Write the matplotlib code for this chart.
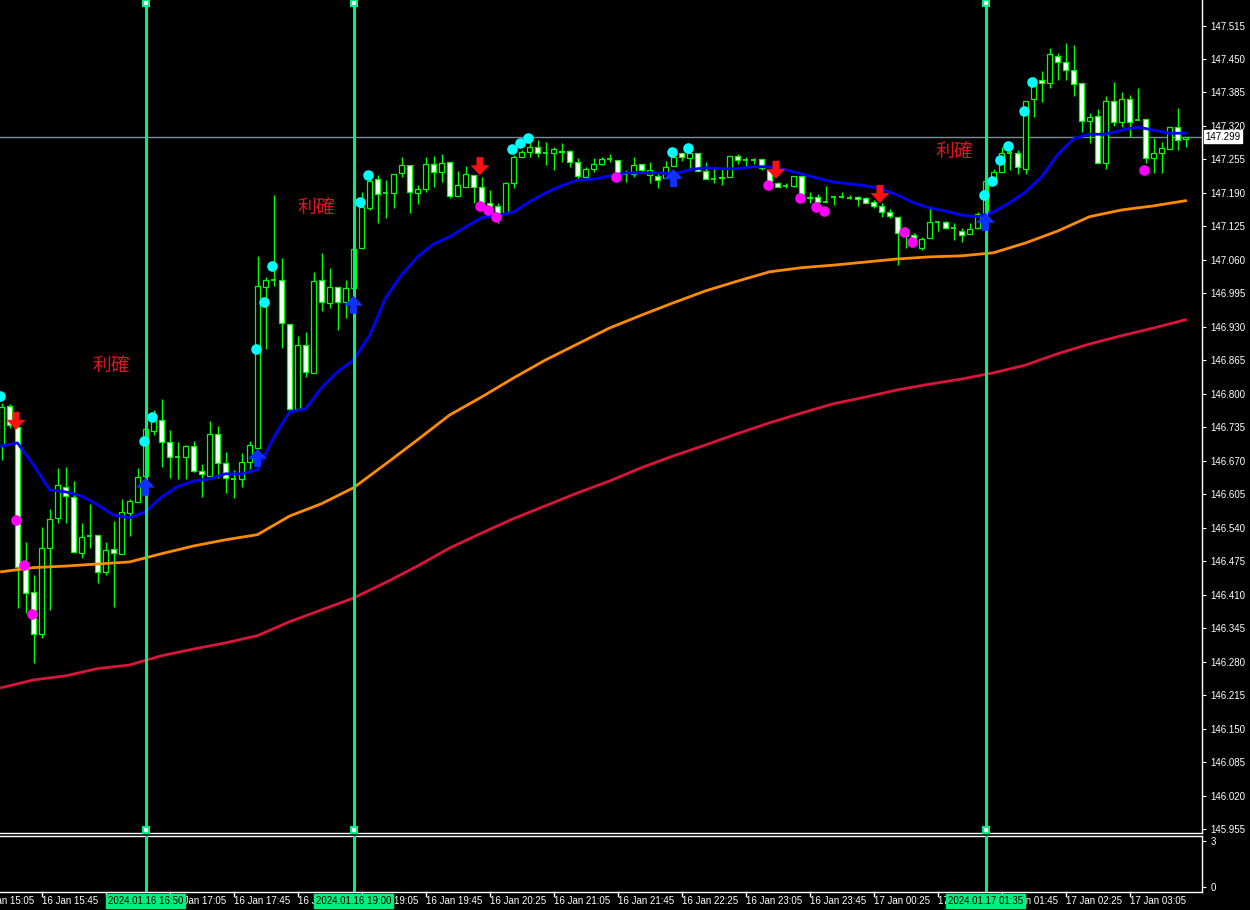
import matplotlib
matplotlib.use('Agg')
import matplotlib.pyplot as plt
from matplotlib.patches import Rectangle
from matplotlib import transforms
from matplotlib.transforms import Bbox

# USDJPY M5, bar 0 = 16 Jan 15:20
opens = [146.701, 146.777, 146.736, 146.463, 146.416, 146.335, 146.501, 146.560, 146.620, 146.600,
         146.492, 146.525, 146.527, 146.455, 146.499, 146.490, 146.569, 146.591, 146.641, 146.728,
         146.750, 146.707, 146.678, 146.678, 146.699, 146.651, 146.641, 146.723, 146.666, 146.635,
         146.635, 146.668, 146.695, 147.008, 147.021, 147.021, 146.936, 146.771, 146.895, 146.841,
         147.021, 146.977, 147.008, 146.979, 147.006, 147.083, 147.161, 147.217, 147.190, 147.190,
         147.229, 147.244, 147.190, 147.198, 147.246, 147.231, 147.250, 147.184, 147.202, 147.225,
         147.202, 147.171, 147.165, 147.151, 147.210, 147.260, 147.270, 147.279, 147.268, 147.268,
         147.272, 147.272, 147.250, 147.221, 147.237, 147.246, 147.256, 147.254, 147.227, 147.227,
         147.246, 147.225, 147.223, 147.219, 147.243, 147.268, 147.258, 147.268, 147.233, 147.217,
         147.219, 147.221, 147.262, 147.254, 147.254, 147.256, 147.235, 147.210, 147.204, 147.204,
         147.223, 147.180, 147.182, 147.173, 147.182, 147.182, 147.180, 147.182, 147.180, 147.173,
         147.165, 147.153, 147.144, 147.113, 147.109, 147.083, 147.103, 147.134, 147.134, 147.122,
         147.116, 147.111, 147.122, 147.149, 147.215, 147.231, 147.268, 147.268, 147.237, 147.372,
         147.409, 147.404, 147.456, 147.444, 147.429, 147.404, 147.330, 147.339, 147.248, 147.369,
         147.328, 147.372, 147.332, 147.334, 147.258, 147.268, 147.275, 147.318, 147.295]
highs = [146.783, 146.781, 146.740, 146.513, 146.449, 146.542, 146.577, 146.657, 146.659, 146.631,
         146.550, 146.587, 146.527, 146.513, 146.554, 146.596, 146.596, 146.657, 146.740, 146.769,
         146.790, 146.730, 146.707, 146.701, 146.709, 146.664, 146.748, 146.738, 146.688, 146.653,
         146.686, 146.709, 147.068, 147.027, 147.186, 147.064, 146.936, 146.913, 146.920, 147.037,
         147.074, 147.045, 147.008, 147.021, 147.081, 147.192, 147.225, 147.225, 147.215, 147.227,
         147.260, 147.244, 147.206, 147.260, 147.262, 147.266, 147.250, 147.233, 147.243, 147.225,
         147.221, 147.196, 147.171, 147.211, 147.264, 147.274, 147.289, 147.293, 147.289, 147.279,
         147.287, 147.274, 147.258, 147.241, 147.258, 147.260, 147.266, 147.254, 147.235, 147.260,
         147.246, 147.250, 147.229, 147.252, 147.268, 147.268, 147.274, 147.268, 147.250, 147.241,
         147.237, 147.262, 147.266, 147.260, 147.258, 147.256, 147.235, 147.211, 147.210, 147.223,
         147.225, 147.192, 147.188, 147.204, 147.182, 147.192, 147.186, 147.184, 147.182, 147.177,
         147.171, 147.159, 147.144, 147.124, 147.113, 147.105, 147.165, 147.134, 147.136, 147.132,
         147.122, 147.132, 147.153, 147.219, 147.237, 147.279, 147.287, 147.274, 147.369, 147.415,
         147.427, 147.471, 147.462, 147.481, 147.477, 147.404, 147.345, 147.353, 147.378, 147.405,
         147.386, 147.380, 147.394, 147.334, 147.297, 147.289, 147.318, 147.355, 147.299]
lows = [146.672, 146.734, 146.385, 146.375, 146.278, 146.327, 146.381, 146.550, 146.550, 146.494,
        146.482, 146.501, 146.434, 146.449, 146.387, 146.490, 146.525, 146.591, 146.633, 146.721,
        146.659, 146.637, 146.635, 146.635, 146.649, 146.600, 146.641, 146.637, 146.608, 146.598,
        146.620, 146.655, 146.695, 146.887, 147.010, 146.889, 146.769, 146.771, 146.833, 146.841,
        146.961, 146.967, 146.924, 146.948, 147.006, 147.083, 147.157, 147.132, 147.142, 147.161,
        147.221, 147.151, 147.169, 147.192, 147.202, 147.211, 147.180, 147.184, 147.202, 147.171,
        147.171, 147.153, 147.132, 147.151, 147.200, 147.260, 147.260, 147.260, 147.244, 147.235,
        147.250, 147.241, 147.215, 147.215, 147.231, 147.244, 147.250, 147.221, 147.211, 147.221,
        147.231, 147.210, 147.200, 147.219, 147.243, 147.252, 147.235, 147.233, 147.217, 147.210,
        147.206, 147.221, 147.246, 147.241, 147.246, 147.235, 147.211, 147.202, 147.200, 147.202,
        147.186, 147.171, 147.171, 147.173, 147.167, 147.180, 147.178, 147.165, 147.171, 147.161,
        147.144, 147.142, 147.050, 147.083, 147.085, 147.080, 147.103, 147.116, 147.120, 147.099,
        147.095, 147.111, 147.120, 147.146, 147.211, 147.231, 147.235, 147.227, 147.227, 147.338,
        147.367, 147.394, 147.409, 147.409, 147.378, 147.308, 147.287, 147.248, 147.237, 147.320,
        147.318, 147.299, 147.332, 147.248, 147.229, 147.229, 147.275, 147.274, 147.279]
closes = [146.775, 146.740, 146.465, 146.414, 146.335, 146.501, 146.558, 146.624, 146.602, 146.494,
          146.523, 146.525, 146.455, 146.498, 146.492, 146.571, 146.593, 146.639, 146.732, 146.748,
          146.707, 146.678, 146.678, 146.699, 146.651, 146.645, 146.723, 146.666, 146.637, 146.635,
          146.668, 146.701, 147.010, 147.021, 147.021, 146.938, 146.771, 146.895, 146.843, 147.019,
          146.979, 147.008, 146.979, 147.006, 147.081, 147.163, 147.213, 147.188, 147.190, 147.227,
          147.244, 147.192, 147.198, 147.246, 147.231, 147.248, 147.184, 147.206, 147.227, 147.202,
          147.171, 147.163, 147.151, 147.210, 147.260, 147.270, 147.279, 147.268, 147.268, 147.275,
          147.270, 147.250, 147.223, 147.237, 147.246, 147.256, 147.256, 147.229, 147.227, 147.244,
          147.235, 147.235, 147.215, 147.241, 147.260, 147.260, 147.268, 147.233, 147.217, 147.217,
          147.221, 147.262, 147.254, 147.254, 147.254, 147.239, 147.211, 147.202, 147.204, 147.223,
          147.186, 147.182, 147.173, 147.173, 147.182, 147.182, 147.180, 147.178, 147.171, 147.165,
          147.153, 147.146, 147.113, 147.107, 147.101, 147.101, 147.134, 147.134, 147.122, 147.122,
          147.109, 147.120, 147.149, 147.213, 147.231, 147.268, 147.268, 147.241, 147.369, 147.405,
          147.404, 147.460, 147.444, 147.429, 147.402, 147.330, 147.338, 147.248, 147.369, 147.328,
          147.372, 147.328, 147.332, 147.258, 147.268, 147.277, 147.318, 147.293, 147.299]

# moving averages (read every 2 / 4 bars)
ma_fast_bars = list(range(0, 149, 2))
ma_fast = [146.699, 146.705, 146.662, 146.614, 146.610, 146.602, 146.585, 146.565, 146.560, 146.571,
           146.600, 146.620, 146.631, 146.635, 146.645, 146.645, 146.653, 146.715, 146.765, 146.771,
           146.812, 146.843, 146.866, 146.913, 146.986, 147.031, 147.066, 147.091, 147.105, 147.124,
           147.142, 147.146, 147.153, 147.173, 147.190, 147.204, 147.215, 147.217, 147.223, 147.229,
           147.229, 147.229, 147.227, 147.235, 147.239, 147.237, 147.237, 147.241, 147.241, 147.235,
           147.227, 147.219, 147.211, 147.208, 147.204, 147.198, 147.186, 147.171, 147.161, 147.155,
           147.147, 147.144, 147.153, 147.171, 147.192, 147.221, 147.264, 147.295, 147.304, 147.304,
           147.312, 147.318, 147.312, 147.306, 147.306]
ma_slow_bars = list(range(0, 149, 4))
ma_mid = [146.455, 146.463, 146.466, 146.470, 146.474, 146.490, 146.505, 146.517, 146.527, 146.563,
          146.587, 146.618, 146.664, 146.711, 146.759, 146.794, 146.831, 146.866, 146.897, 146.928,
          146.953, 146.977, 147.000, 147.019, 147.037, 147.045, 147.050, 147.056, 147.062, 147.066,
          147.068, 147.074, 147.093, 147.116, 147.144, 147.157, 147.165, 147.175]
ma_long = [146.230, 146.245, 146.253, 146.267, 146.274, 146.292, 146.305, 146.317, 146.331, 146.358,
           146.381, 146.404, 146.434, 146.466, 146.501, 146.530, 146.558, 146.583, 146.608, 146.631,
           146.657, 146.680, 146.701, 146.723, 146.744, 146.763, 146.781, 146.794, 146.808, 146.819,
           146.829, 146.841, 146.856, 146.878, 146.897, 146.913, 146.928, 146.944]

# signal dots
buy_dot_bars = [0, 18, 19, 32, 33, 34, 45, 46, 64, 65, 66, 84, 86, 123, 124, 125, 126, 128, 129]
buy_dot_px = [146.796, 146.709, 146.756, 146.887, 146.979, 147.048, 147.173, 147.225, 147.275, 147.287,
              147.297, 147.270, 147.277, 147.186, 147.213, 147.254, 147.281, 147.349, 147.405]
sell_dot_bars = [2, 3, 4, 60, 61, 62, 77, 96, 100, 102, 103, 113, 114, 143]
sell_dot_px = [146.556, 146.468, 146.373, 147.165, 147.157, 147.144, 147.221, 147.206, 147.180, 147.163,
               147.155, 147.114, 147.095, 147.235]

# arrows
down_arrow_bars = [2, 60, 97, 110]
down_arrow_px = [146.748, 147.242, 147.235, 147.188]
up_arrow_bars = [18, 32, 44, 84, 123]
up_arrow_px = [146.620, 146.676, 146.973, 147.219, 147.134]

# "take profit" notes
note_text = '利確'
note_bars = [13.7, 39.4, 119.1]
note_px = [146.856, 147.161, 147.270]

# vertical lines
vline_bars = [18, 44, 123]
vline_labels = ['2024.01.16 16:50', '2024.01.16 19:00', '2024.01.17 01:35']

# time axis
time_bars = [-3, 5, 13, 21, 29, 37, 45, 53, 61, 69, 77, 85, 93, 101, 109, 117, 125, 133, 141]
time_labels = ['16 Jan 15:05', '16 Jan 15:45', '16 Jan 16:25', '16 Jan 17:05', '16 Jan 17:45',
               '16 Jan 18:25', '16 Jan 19:05', '16 Jan 19:45', '16 Jan 20:25', '16 Jan 21:05',
               '16 Jan 21:45', '16 Jan 22:25', '16 Jan 23:05', '16 Jan 23:45', '17 Jan 00:25',
               '17 Jan 01:05', '17 Jan 01:45', '17 Jan 02:25', '17 Jan 03:05']

last_price = 147.299
price_ticks = [round(145.955 + 0.065 * i, 3) for i in range(25)]

LIME = '#00ff00'
VCOL = '#00f080'
W, H = 1250, 910
AXF = ['Liberation Sans', 'DejaVu Sans']

fig = plt.figure(figsize=(W / 100, H / 100), dpi=100, facecolor='black')
ax = fig.add_axes([0, (H - 833) / H, 1202 / W, 833 / H], facecolor='black')
sub = fig.add_axes([0, (H - 892) / H, 1202 / W, 56 / H], facecolor='black')

xlim = (-0.19, 150.06)
ax.set_xlim(*xlim)
ax.set_ylim(145.948, 147.5645)
sub.set_xlim(*xlim)
sub.set_ylim(-0.3, 3.3)

# candles
bw = 0.62
for i in range(len(opens)):
    o, h, l, c = opens[i], highs[i], lows[i], closes[i]
    ax.vlines(i, l, h, color=LIME, lw=1, zorder=2)
    lo, hi = min(o, c), max(o, c)
    if hi - lo < 0.0015:
        ax.hlines(c, i - bw / 2, i + bw / 2, color=LIME, lw=1.3, zorder=3)
    else:
        face = 'white' if c < o else 'black'
        ax.add_patch(Rectangle((i - bw / 2, lo), bw, hi - lo, facecolor=face,
                               edgecolor=LIME, lw=0.9, zorder=3))

ax.axhline(last_price, color='#7f8c99', lw=1, zorder=1)

ax.plot(ma_slow_bars, ma_long, color='#dc143c', lw=2, zorder=4)
ax.plot(ma_slow_bars, ma_mid, color='#ff8c00', lw=2, zorder=4)
ax.plot(ma_fast_bars, ma_fast, color='#0000ff', lw=2, zorder=4)

for b in vline_bars:
    ax.axvline(b, color=VCOL, lw=2.2, zorder=5)
    sub.axvline(b, color=VCOL, lw=2.2, zorder=5)
    for yy in (0.996, 0.004):
        ax.plot([b], [yy], transform=transforms.blended_transform_factory(ax.transData, ax.transAxes),
                marker='s', ms=5, mfc='white', mec=VCOL, mew=1.5, zorder=6, clip_on=False)

ax.scatter([b - 0.2 for b in buy_dot_bars], buy_dot_px, s=58, color='#00ffff', zorder=7, lw=0)
ax.scatter([b - 0.2 for b in sell_dot_bars], sell_dot_px, s=58, color='#ff00ff', zorder=7, lw=0)

half = 0.0175
astyle = 'simple,head_length=0.55,head_width=1.05,tail_width=0.38'
for b, p in zip(down_arrow_bars, down_arrow_px):
    ax.annotate('', xy=(b - 0.2, p - half), xytext=(b - 0.2, p + half),
                arrowprops=dict(arrowstyle=astyle, color='#ff1010', lw=0,
                                mutation_scale=13, shrinkA=0, shrinkB=0), zorder=8)
for b, p in zip(up_arrow_bars, up_arrow_px):
    ax.annotate('', xy=(b, p + half), xytext=(b, p - half),
                arrowprops=dict(arrowstyle=astyle, color='#1030ff', lw=0,
                                mutation_scale=13, shrinkA=0, shrinkB=0), zorder=8)

for b, p in zip(note_bars, note_px):
    ax.text(b, p, note_text, color='#e0141e', fontsize=13.5, ha='center', va='center',
            family=['Noto Sans CJK JP', 'DejaVu Sans'], zorder=9)

# axes frame
for a in (ax, sub):
    a.set_xticks([])
    for s in ('left', 'top'):
        a.spines[s].set_visible(False)
    for s in ('right', 'bottom'):
        a.spines[s].set_color('white')
        a.spines[s].set_linewidth(1)
sub.spines['top'].set_visible(True)
sub.spines['top'].set_color('white')
sub.spines['top'].set_linewidth(1)

ax.yaxis.tick_right()
ax.set_yticks(price_ticks)
ax.set_yticklabels([f'{p:.3f}' for p in price_ticks], fontsize=7, color='white', family=AXF)
ax.tick_params(axis='y', colors='white', length=3, pad=3, labelsize=7)

sub.yaxis.tick_right()
sub.set_yticks([0, 3])
sub.set_yticklabels(['0', '3'], fontsize=7, color='white', family=AXF)
sub.tick_params(axis='y', colors='white', length=3, pad=3, labelsize=7)

# last price box
ax.text(1205 / W, last_price, f'{last_price:.3f}', color='black', fontsize=7, family=AXF,
        transform=transforms.blended_transform_factory(fig.transFigure, ax.transData),
        ha='left', va='center', zorder=10,
        bbox=dict(boxstyle='square,pad=0.15', facecolor='white', edgecolor='white'))

# time axis
tt = transforms.blended_transform_factory(sub.transData, fig.transFigure)
tlabels = []
for b, lab in zip(time_bars, time_labels):
    t = sub.text(b, (H - 901) / H, lab, color='white', fontsize=7, family=AXF, transform=tt,
                 ha='left', va='center', clip_on=False, zorder=2)
    tlabels.append(t)
    if xlim[0] <= b <= xlim[1]:
        sub.plot([b, b], [(H - 892) / H, (H - 896) / H], color='white', lw=1,
                 transform=tt, clip_on=False)
boxes = []
for b, lab in zip(vline_bars, vline_labels):
    boxes.append(sub.text(b, (H - 901) / H, lab, color='black', fontsize=7, family=AXF,
                          transform=tt, ha='center', va='center', clip_on=False, zorder=5,
                          bbox=dict(boxstyle='square,pad=0.2', facecolor=VCOL, edgecolor=VCOL)))

# the date boxes hide the time labels under them, as in the terminal
fig.canvas.draw()
r = fig.canvas.get_renderer()
for t in tlabels:
    e = t.get_window_extent(r)
    left, right = -1000, W + 1000
    for bx in boxes:
        be = bx.get_bbox_patch().get_window_extent(r)
        if e.x1 > be.x0 and e.x0 < be.x1:
            if e.x0 < be.x0:
                right = min(right, be.x0)
            else:
                left = max(left, be.x1)
    if left >= e.x1 - 1:
        t.set_visible(False)
    elif left > -1000 or right < W + 1000:
        t.set_clip_box(Bbox([[left, 0], [right, H]]))
        t.set_clip_on(True)

fig.savefig('out.png', dpi=100, facecolor='black')
